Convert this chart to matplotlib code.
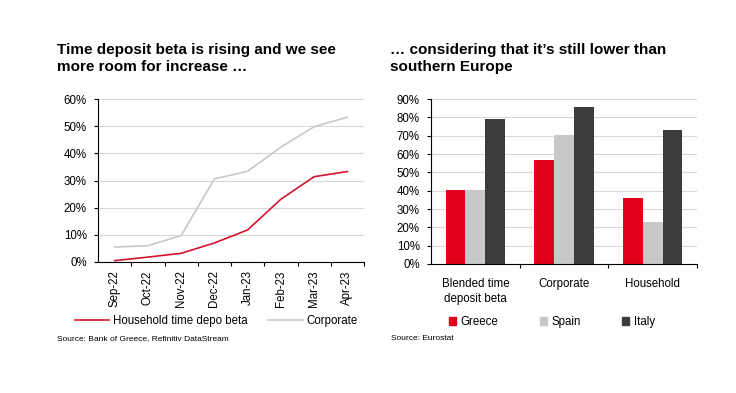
import matplotlib
matplotlib.use("Agg")
import matplotlib.pyplot as plt
import numpy as np
from matplotlib.lines import Line2D
from matplotlib.patches import Patch

plt.rcParams['font.family'] = ['Liberation Sans', 'DejaVu Sans']

months = ["Sep-22", "Oct-22", "Nov-22", "Dec-22", "Jan-23", "Feb-23", "Mar-23", "Apr-23"]
household = [0.5, 1.8, 3.2, 7.0, 11.8, 23.1, 31.4, 33.3]
corporate = [5.5, 6.0, 9.7, 30.6, 33.4, 42.3, 49.8, 53.3]

categories = ["Blended time\ndeposit beta", "Corporate", "Household"]
greece = [40.6, 56.6, 36.0]
spain = [40.5, 70.6, 22.9]
italy = [79.0, 85.8, 73.0]

RED = "#E0001B"
LRED = "#D4142E"
LGRAY = "#C8C8C8"
DGRAY = "#3C3C3C"
GRID = "#D9D9D9"

fig = plt.figure(figsize=(7.36, 3.93), dpi=100)
W, H = 736, 393

def ax_at(x0, y0, x1, y1):
    return fig.add_axes([x0 / W, 1 - y1 / H, (x1 - x0) / W, (y1 - y0) / H])

def style(ax):
    for s in ["top", "right"]:
        ax.spines[s].set_visible(False)
    for s in ["left", "bottom"]:
        ax.spines[s].set_linewidth(0.8)
        ax.spines[s].set_color("black")
    ax.yaxis.grid(True, color=GRID, linewidth=0.8)
    ax.set_axisbelow(True)
    ax.tick_params(axis="y", length=3, width=0.8, labelsize=8.3, pad=5)
    ax.tick_params(axis="x", which="major", length=0, labelsize=8.3)
    ax.tick_params(axis="x", which="minor", length=3, width=0.8)

# Left chart
ax1 = ax_at(98, 99, 364, 262)
x = np.arange(len(months))
ax1.plot(x, corporate, color=LGRAY, linewidth=1.2)
ax1.plot(x, household, color=LRED, linewidth=1.2)
ax1.set_xlim(-0.5, len(months) - 0.5)
ax1.set_ylim(0, 60)
ax1.set_yticks(np.arange(0, 61, 10))
ax1.set_yticklabels([f"{v}%" for v in range(0, 61, 10)])
ax1.set_xticks(x)
ax1.set_xticklabels(months, rotation=90)
ax1.set_xticks(np.arange(0.5, len(months), 1), minor=True)
style(ax1)
ax1.tick_params(axis="x", which="major", pad=6)

# Right chart
ax2 = ax_at(431, 99, 697, 264)
xc = np.arange(len(categories))
bw = 0.222
ax2.bar(xc - bw, greece, width=bw, color=RED)
ax2.bar(xc, spain, width=bw, color=LGRAY)
ax2.bar(xc + bw, italy, width=bw, color=DGRAY)
ax2.set_xlim(-0.5, len(categories) - 0.5)
ax2.set_ylim(0, 90)
ax2.set_yticks(np.arange(0, 91, 10))
ax2.set_yticklabels([f"{v}%" for v in range(0, 91, 10)])
ax2.set_xticks(xc)
ax2.set_xticklabels(categories, linespacing=1.3)
ax2.set_xticks(np.arange(0.5, len(categories), 1), minor=True)
style(ax2)
ax2.tick_params(axis="x", which="major", pad=10)

# Titles
fig.text(57 / W, 1 - 43 / H, "Time deposit beta is rising and we see\nmore room for increase \u2026",
         fontsize=11, fontweight="bold", va="top", ha="left", linespacing=1.3)
fig.text(390 / W, 1 - 43 / H, "\u2026 considering that it\u2019s still lower than\nsouthern Europe",
         fontsize=11, fontweight="bold", va="top", ha="left", linespacing=1.3)

# Legends
h1 = [Line2D([], [], color=LRED, linewidth=1.2), Line2D([], [], color=LGRAY, linewidth=1.2)]
fig.legend(h1, ["Household time depo beta", "Corporate"], loc="center",
           bbox_to_anchor=(216 / W, 1 - 321 / H), ncol=2, frameon=False, fontsize=8.3,
           handlelength=3.0, handletextpad=0.3, columnspacing=1.8)
h2 = [Patch(color=RED), Patch(color=LGRAY), Patch(color=DGRAY)]
fig.legend(h2, ["Greece", "Spain", "Italy"], loc="center",
           bbox_to_anchor=(552 / W, 1 - 322 / H), ncol=3, frameon=False, fontsize=8.3,
           handlelength=0.6, handleheight=0.6, handletextpad=0.4, columnspacing=3.6)

# Sources
fig.text(57 / W, 1 - 339 / H, "Source: Bank of Greece, Refinitiv DataStream", fontsize=6, va="center")
fig.text(391 / W, 1 - 339 / H, "Source: Eurostat", fontsize=6, va="center")

fig.savefig("out.png", dpi=100, facecolor="white")
